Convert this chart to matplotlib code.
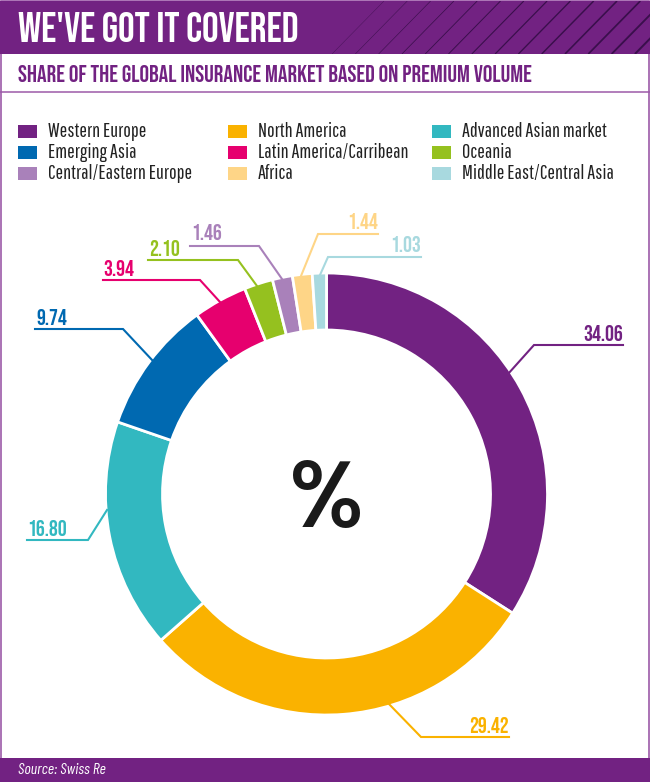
# Share of global insurance market - donut chart with leader lines
import matplotlib
matplotlib.use("Agg")
import matplotlib.pyplot as plt
from matplotlib.patches import Rectangle

regions = ["Western Europe", "North America", "Advanced Asian market",
           "Emerging Asia", "Latin America/Carribean", "Oceania",
           "Central/Eastern Europe", "Africa", "Middle East/Central Asia"]
shares = [34.06, 29.42, 16.80, 9.74, 3.94, 2.10, 1.46, 1.44, 1.03]
share_labels = ["34.06", "29.42", "16.80", "9.74", "3.94", "2.10", "1.46", "1.44", "1.03"]
colors = ["#722282", "#fab200", "#32b8c0", "#0069b1", "#e6006e",
          "#95c11f", "#a981ba", "#fed587", "#a8d9df"]

PURPLE = "#722282"
FRAME = "#9c5aa8"
HEAD_FONT = ["Bebas Neue", "DejaVu Sans"]
BODY_FONT = ["Pathway Gothic One", "DejaVu Sans"]
NOTE_FONT = ["Barlow Condensed", "DejaVu Sans"]

W, H = 650, 782


def fy(y):
    # picture rows count from the top, the axes from the bottom
    return H - y


fig = plt.figure(figsize=(W / 100, H / 100), dpi=100)
ax = fig.add_axes([0, 0, 1, 1])
ax.set_xlim(0, W)
ax.set_ylim(0, H)
ax.axis("off")

# frame
ax.add_patch(Rectangle((0.75, 0), W - 1.5, H - 0.5, fc="white", ec=FRAME, lw=1.2))
ax.plot([0, W], [fy(92), fy(92)], color=FRAME, lw=1.1)

# header band with the diagonal stripes
band = Rectangle((0, fy(53.5)), W, 52.5, fc=PURPLE, ec="none", zorder=2)
ax.add_patch(band)
for i in range(17):
    x0 = 332 + i * 23.3
    line, = ax.plot([x0, x0 + 52], [fy(54), fy(1)], color="#3a0f4c",
                    lw=0.25 + i * 0.09, zorder=3, solid_capstyle="butt")
    line.set_clip_path(band)

ax.text(18, fy(27.5), "WE'VE GOT IT COVERED", color="white", fontsize=30,
        family=HEAD_FONT, va="center", ha="left", zorder=4)
ax.text(18, fy(73), "SHARE OF THE GLOBAL INSURANCE MARKET BASED ON PREMIUM VOLUME",
        color=PURPLE, fontsize=17.2, family=HEAD_FONT, va="center", ha="left")

# legend, filled column by column of three rows
col_x = [18, 228, 432]
row_y = [131, 152, 173]
legend_order = [[0, 3, 6], [1, 4, 7], [2, 5, 8]]
for cx, idxs in zip(col_x, legend_order):
    for ry, idx in zip(row_y, idxs):
        ax.add_patch(Rectangle((cx, fy(ry + 6.5)), 19, 13, fc=colors[idx], ec="none"))
        ax.text(cx + 30, fy(ry + 0.5), regions[idx], color="#222222", fontsize=14.5,
                family=BODY_FONT, va="center", ha="left")

# donut
ax.pie(shares, colors=colors, startangle=90, counterclock=False,
       center=(326.5, fy(494)), radius=221, frame=True,
       wedgeprops=dict(width=57, edgecolor="white", linewidth=2))
ax.set_xlim(0, W)
ax.set_ylim(0, H)
ax.set_aspect("auto")
ax.axis("off")

ax.text(326.5, fy(505), "%", color="#1a1a1a", fontsize=68, fontweight=500,
        family=["Poppins", "DejaVu Sans"], ha="center", va="center")

# leader lines: wedge edge, elbow, end of the shelf
leaders = [
    [(508, 374), (534, 345), (623, 345)],
    [(388, 703), (421, 737), (509, 737)],
    [(107, 510), (88, 540), (27, 540)],
    [(153, 361), (123, 329), (35, 329)],
    [(220, 302), (200, 280), (103, 280)],
    [(257, 286), (238, 260), (148, 260)],
    [(282, 279), (259, 246), (190, 246)],
    [(301, 276), (318, 234), (378, 234)],
    [(320, 275), (328, 257), (421, 257)],
]
label_anchor = [(623, 333, "right"), (509, 725, "right"), (27, 528, "left"),
                (36, 317, "left"), (103, 268, "left"), (149, 248, "left"),
                (191, 232, "left"), (378, 221, "right"), (421, 244, "right")]
for pts, (tx, ty, ha), lab, col in zip(leaders, label_anchor, share_labels, colors):
    ax.plot([p[0] for p in pts], [fy(p[1]) for p in pts], color=col, lw=1.5,
            solid_joinstyle="miter", zorder=5)
    ax.text(tx, fy(ty), lab, color=col, fontsize=16, family=HEAD_FONT,
            ha=ha, va="center", zorder=5)

# footer
ax.add_patch(Rectangle((0, 0), W, H - 758, fc=PURPLE, ec="none", zorder=2))
ax.text(18, fy(770), "Source: Swiss Re", color="white", fontsize=11.3, style="italic",
        family=NOTE_FONT, va="center", ha="left", zorder=4)

fig.savefig("out.png", dpi=100)
